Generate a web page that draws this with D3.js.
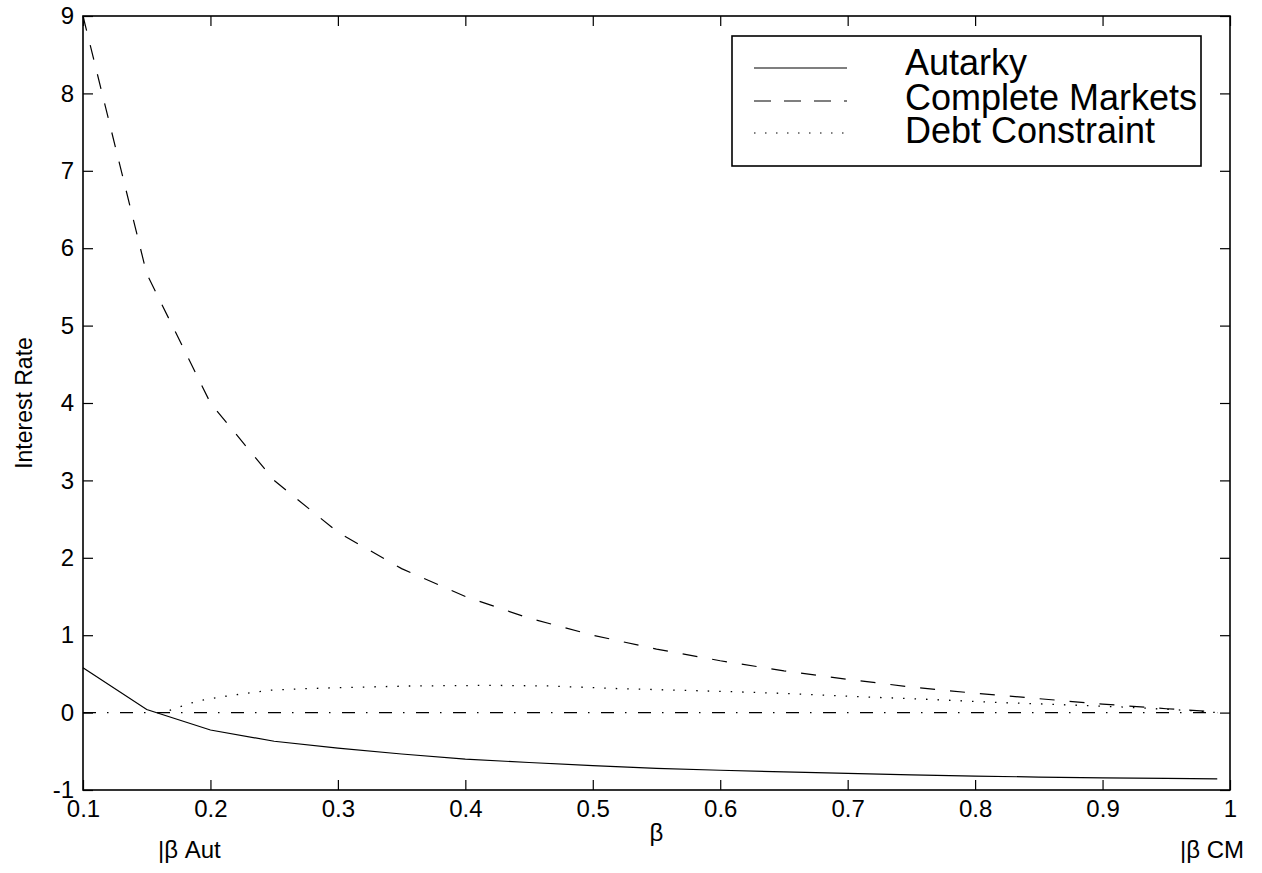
<!DOCTYPE html>
<html lang="en">
<head>
    <meta charset="UTF-8">
    <title>Interest Rate vs Beta</title>
    <script src="https://d3js.org/d3.v7.min.js"></script>
    <style>
        body {
            margin: 0;
            padding: 0;
            background-color: #ffffff;
        }

        svg {
            display: block;
            font-family: "Liberation Sans", Arial, sans-serif;
        }

        .tick text {
            font-size: 24px;
            fill: #000;
        }

        .tick line {
            stroke: #000;
            stroke-width: 1.2px;
        }

        .series {
            fill: none;
            stroke: #000;
        }
    </style>
</head>
<body>
    <svg width="1262" height="873"></svg>

    <script>
        // series
        const autarkyBeta = [0.1, 0.15, 0.2, 0.25, 0.3, 0.35, 0.4, 0.45, 0.5, 0.55, 0.6, 0.65, 0.7, 0.75, 0.8, 0.85, 0.9, 0.95, 0.99];
        const autarkyRate = [0.58, 0.04, -0.225, -0.37, -0.46, -0.535, -0.6, -0.645, -0.685, -0.72, -0.745, -0.765, -0.785, -0.805, -0.82, -0.833, -0.843, -0.851, -0.856];

        const cmBeta = [0.1, 0.15, 0.2, 0.25, 0.3, 0.35, 0.4, 0.45, 0.5, 0.55, 0.6, 0.65, 0.7, 0.75, 0.8, 0.85, 0.9, 0.95, 0.99];
        const cmRate = [9.0, 5.67, 4.0, 3.0, 2.33, 1.86, 1.5, 1.22, 1.0, 0.82, 0.67, 0.54, 0.43, 0.33, 0.25, 0.18, 0.11, 0.05, 0.01];

        const debtBeta = [0.168, 0.177, 0.184, 0.193, 0.211, 0.229, 0.247, 0.274, 0.32, 0.357, 0.42, 0.465, 0.52, 0.566, 0.61, 0.655, 0.71, 0.765, 0.82, 0.872, 0.919, 0.97, 0.99];
        const debtRate = [0.03, 0.08, 0.12, 0.16, 0.21, 0.25, 0.29, 0.31, 0.33, 0.344, 0.352, 0.344, 0.31, 0.29, 0.27, 0.245, 0.205, 0.17, 0.13, 0.10, 0.07, 0.025, 0.0];

        const zeroBeta = [0.1, 0.99];
        const zeroRate = [0, 0];

        const xTicks = [0.1, 0.2, 0.3, 0.4, 0.5, 0.6, 0.7, 0.8, 0.9, 1];
        const yTicks = [-1, 0, 1, 2, 3, 4, 5, 6, 7, 8, 9];

        const legendNames = ["Autarky", "Complete Markets", "Debt Constraint"];
        const legendDash = ["none", "17,13", "1.5,9.5"];

        const svg = d3.select("svg");
        const margin = { left: 83, right: 32, top: 16, bottom: 83 };
        const W = 1262, H = 873;
        const plotW = W - margin.left - margin.right;
        const plotH = H - margin.top - margin.bottom;

        svg.append("rect").attr("width", W).attr("height", H).attr("fill", "#fff");

        const x = d3.scaleLinear().domain([0.1, 1]).range([margin.left, margin.left + plotW]);
        const y = d3.scaleLinear().domain([-1, 9]).range([margin.top + plotH, margin.top]);

        const fmtX = d => d === 1 ? "1" : d.toFixed(1);
        const fmtY = d => String(d); // plain hyphen for -1

        // axes, ticks pointing inward
        svg.append("g")
            .attr("transform", `translate(0,${margin.top + plotH})`)
            .call(d3.axisBottom(x).tickValues(xTicks).tickFormat(fmtX).tickSizeInner(-10).tickSizeOuter(0).tickPadding(10))
            .call(g => g.select(".domain").remove());

        svg.append("g")
            .attr("transform", `translate(0,${margin.top})`)
            .call(d3.axisTop(x).tickValues(xTicks).tickFormat("").tickSizeInner(-10).tickSizeOuter(0))
            .call(g => g.select(".domain").remove());

        svg.append("g")
            .attr("transform", `translate(${margin.left},0)`)
            .call(d3.axisLeft(y).tickValues(yTicks).tickFormat(fmtY).tickSizeInner(-10).tickSizeOuter(0).tickPadding(9))
            .call(g => g.select(".domain").remove());

        svg.append("g")
            .attr("transform", `translate(${margin.left + plotW},0)`)
            .call(d3.axisRight(y).tickValues(yTicks).tickFormat("").tickSizeInner(-10).tickSizeOuter(0))
            .call(g => g.select(".domain").remove());

        svg.append("rect")
            .attr("x", margin.left)
            .attr("y", margin.top)
            .attr("width", plotW)
            .attr("height", plotH)
            .attr("fill", "none")
            .attr("stroke", "#000")
            .attr("stroke-width", 1.6);

        const line = d3.line().x(d => x(d[0])).y(d => y(d[1]));

        svg.append("path")
            .attr("class", "series")
            .attr("d", line(d3.zip(zeroBeta, zeroRate)))
            .attr("stroke", "#555")
            .attr("stroke-width", 1.3)
            .attr("stroke-dasharray", "13,11,1.5,11.5");

        svg.append("path")
            .attr("class", "series")
            .attr("d", line(d3.zip(autarkyBeta, autarkyRate)))
            .attr("stroke-width", 1.2);

        svg.append("path")
            .attr("class", "series")
            .attr("d", line(d3.zip(cmBeta, cmRate)))
            .attr("stroke-width", 1.2)
            .attr("stroke-dasharray", "15,15");

        svg.append("path")
            .attr("class", "series")
            .attr("d", line(d3.zip(debtBeta, debtRate)))
            .attr("stroke-width", 1.3)
            .attr("stroke-dasharray", "1.5,10");

        // axis labels
        svg.append("text")
            .attr("x", margin.left + plotW / 2)
            .attr("y", 841)
            .attr("text-anchor", "middle")
            .style("font-size", "24px")
            .text("β");

        svg.append("text")
            .attr("transform", `translate(32,${margin.top + plotH / 2}) rotate(-90)`)
            .attr("text-anchor", "middle")
            .style("font-size", "23px")
            .text("Interest Rate");

        svg.append("text")
            .attr("x", 158)
            .attr("y", 858)
            .style("font-size", "24px")
            .text("|β Aut");

        svg.append("text")
            .attr("x", 1180)
            .attr("y", 858)
            .style("font-size", "24px")
            .text("|β CM");

        // legend
        const legend = svg.append("g");
        legend.append("rect")
            .attr("x", 732)
            .attr("y", 36)
            .attr("width", 469)
            .attr("height", 130)
            .attr("fill", "#fff")
            .attr("stroke", "#000")
            .attr("stroke-width", 1.6);

        const lineY = [68, 101, 133];
        const textY = [75, 110, 143];
        legendNames.forEach((name, i) => {
            legend.append("line")
                .attr("x1", 754).attr("x2", 847)
                .attr("y1", lineY[i]).attr("y2", lineY[i])
                .attr("stroke", "#000")
                .attr("stroke-width", 1.2)
                .attr("stroke-dasharray", legendDash[i]);
            legend.append("text")
                .attr("x", 905)
                .attr("y", textY[i])
                .style("font-size", "36px")
                .text(name);
        });
    </script>
</body>
</html>
